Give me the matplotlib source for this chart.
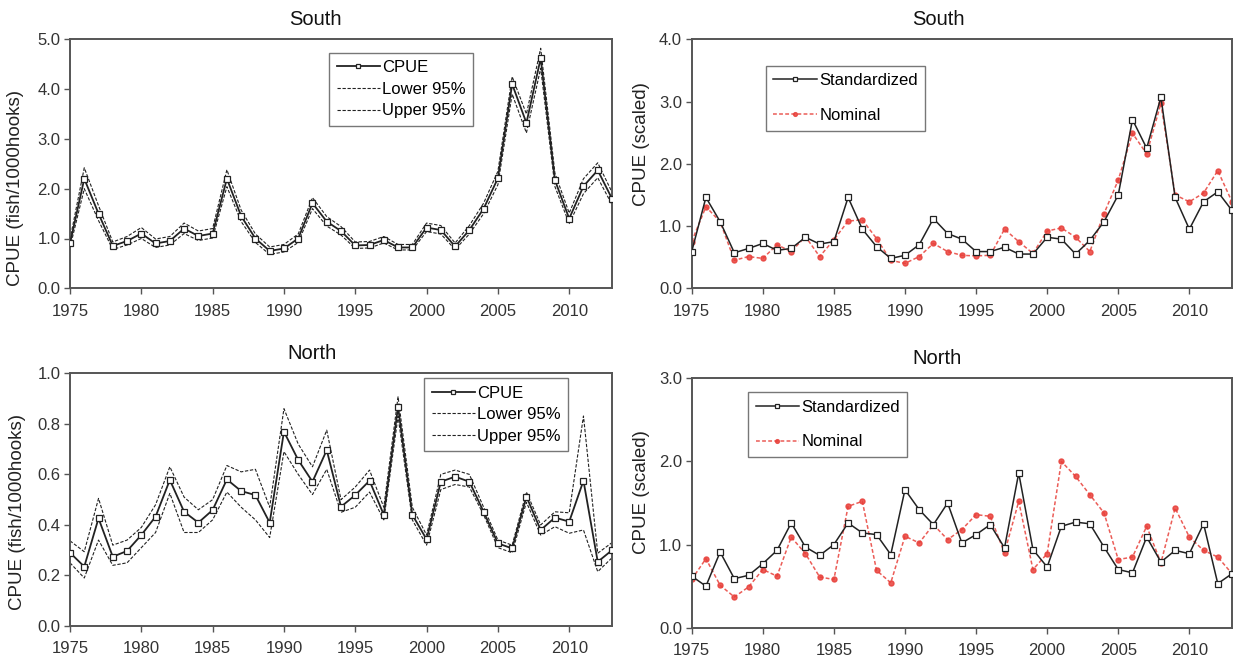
import numpy as np
import matplotlib
matplotlib.use("Agg")
import matplotlib.pyplot as plt

plt.rcParams['font.family'] = ['Liberation Sans', 'DejaVu Sans']

# --- data ---
years = list(range(1975, 2014))

# South: standardized CPUE (fish/1000 hooks) with 95% bounds
south_cpue = [0.90, 2.20, 1.50, 0.85, 0.95, 1.10, 0.90, 0.95, 1.20, 1.05,
              1.10, 2.20, 1.45, 1.00, 0.75, 0.80, 1.00, 1.71, 1.34, 1.15,
              0.86, 0.87, 0.97, 0.82, 0.82, 1.22, 1.17, 0.84, 1.17, 1.60,
              2.21, 4.10, 3.32, 4.62, 2.17, 1.40, 2.05, 2.37, 1.80]
south_lower = [0.82, 2.00, 1.36, 0.78, 0.87, 1.00, 0.82, 0.87, 1.10, 0.96,
               1.01, 2.04, 1.34, 0.92, 0.68, 0.73, 0.92, 1.60, 1.25, 1.07,
               0.80, 0.81, 0.91, 0.77, 0.77, 1.14, 1.09, 0.78, 1.09, 1.50,
               2.08, 3.90, 3.12, 4.42, 2.04, 1.30, 1.90, 2.22, 1.68]
south_upper = [0.98, 2.42, 1.66, 0.93, 1.04, 1.22, 0.99, 1.04, 1.31, 1.15,
               1.20, 2.38, 1.57, 1.09, 0.83, 0.88, 1.09, 1.82, 1.44, 1.24,
               0.93, 0.94, 1.04, 0.88, 0.88, 1.31, 1.26, 0.91, 1.26, 1.71,
               2.35, 4.25, 3.50, 4.82, 2.31, 1.51, 2.20, 2.52, 1.93]

# South: scaled indices
south_std = [0.59, 1.46, 1.07, 0.57, 0.64, 0.72, 0.61, 0.64, 0.82, 0.71,
             0.75, 1.46, 0.95, 0.67, 0.48, 0.53, 0.70, 1.12, 0.88, 0.79,
             0.59, 0.59, 0.66, 0.55, 0.55, 0.82, 0.79, 0.55, 0.77, 1.07,
             1.50, 2.71, 2.25, 3.07, 1.46, 0.95, 1.39, 1.55, 1.25]
south_nom = [0.75, 1.31, 1.07, 0.45, 0.51, 0.48, 0.70, 0.59, 0.83, 0.51,
             0.78, 1.08, 1.10, 0.80, 0.45, 0.40, 0.51, 0.72, 0.59, 0.53,
             0.52, 0.53, 0.95, 0.75, 0.56, 0.92, 0.97, 0.82, 0.59, 1.20,
             1.74, 2.49, 2.16, 2.97, 1.50, 1.39, 1.53, 1.89, 1.39]

# North: standardized CPUE (fish/1000 hooks) with 95% bounds
north_cpue = [0.290, 0.235, 0.426, 0.274, 0.297, 0.360, 0.433, 0.578, 0.452, 0.409,
              0.459, 0.580, 0.534, 0.518, 0.409, 0.769, 0.657, 0.571, 0.696, 0.472,
              0.518, 0.575, 0.440, 0.868, 0.440, 0.343, 0.571, 0.591, 0.571, 0.452,
              0.327, 0.307, 0.512, 0.380, 0.429, 0.413, 0.575, 0.254, 0.300]
north_lower = [0.25, 0.19, 0.34, 0.24, 0.25, 0.31, 0.37, 0.525, 0.37, 0.37,
               0.42, 0.53, 0.47, 0.42, 0.35, 0.69, 0.60, 0.52, 0.62, 0.45,
               0.47, 0.53, 0.42, 0.83, 0.42, 0.32, 0.54, 0.56, 0.55, 0.44,
               0.31, 0.29, 0.49, 0.36, 0.393, 0.367, 0.38, 0.215, 0.27]
north_upper = [0.337, 0.294, 0.505, 0.32, 0.34, 0.39, 0.48, 0.63, 0.51, 0.46,
               0.50, 0.635, 0.61, 0.62, 0.47, 0.86, 0.72, 0.63, 0.775, 0.50,
               0.55, 0.617, 0.47, 0.907, 0.47, 0.36, 0.60, 0.617, 0.60, 0.47,
               0.34, 0.32, 0.53, 0.40, 0.452, 0.448, 0.831, 0.288, 0.33]

# North: scaled indices
north_std = [0.62, 0.50, 0.91, 0.59, 0.63, 0.77, 0.93, 1.26, 0.97, 0.87,
             1.00, 1.26, 1.14, 1.12, 0.88, 1.66, 1.42, 1.24, 1.50, 1.02,
             1.12, 1.24, 0.96, 1.86, 0.94, 0.73, 1.22, 1.27, 1.25, 0.97,
             0.70, 0.66, 1.09, 0.79, 0.93, 0.89, 1.25, 0.53, 0.65]
north_nom = [0.58, 0.83, 0.51, 0.37, 0.49, 0.70, 0.62, 1.09, 0.89, 0.61,
             0.58, 1.46, 1.52, 0.69, 0.54, 1.10, 1.02, 1.24, 1.06, 1.18,
             1.36, 1.34, 0.90, 1.52, 0.70, 0.89, 2.00, 1.82, 1.60, 1.38,
             0.82, 0.85, 1.22, 0.78, 1.44, 1.09, 0.93, 0.85, 0.65]

xticks = [1975, 1980, 1985, 1990, 1995, 2000, 2005, 2010]
SPINE = '#555555'
RED = '#e8403a'
W, H = 1235, 659


def fig_rect(x0, y0, x1, y1):
    # pixel box (top-left origin) -> figure fraction rect
    return [x0 / W, 1 - y1 / H, (x1 - x0) / W, (y1 - y0) / H]


def style_axes(ax, ymax, ystep, title, title_x):
    ax.set_xlim(1975, 2013)
    ax.set_ylim(0, ymax)
    ax.set_xticks(xticks)
    ax.set_yticks(np.arange(0, ymax + ystep / 2, ystep))
    ax.yaxis.set_major_formatter(matplotlib.ticker.FormatStrFormatter('%.1f'))
    ax.tick_params(direction='out', length=4, width=1, color=SPINE,
                   labelsize=12, labelcolor='#333333')
    ax.tick_params(axis='x', pad=7)
    ax.tick_params(axis='y', pad=3)
    for s in ax.spines.values():
        s.set_color(SPINE)
        s.set_linewidth(1.4)
    ax.set_title(title, fontsize=14.5, x=title_x, pad=10, color='#111111')


def plot_cpue(ax, cpue, lower, upper):
    ax.plot(years, lower, '--', color='#222222', lw=0.8, dashes=(3, 1.5), label='Lower 95%')
    ax.plot(years, upper, '--', color='#222222', lw=0.8, dashes=(3, 1.5), label='Upper 95%')
    ax.plot(years, cpue, '-', color='#222222', lw=1.3, marker='s', ms=4.2,
            mfc='white', mec='#222222', mew=0.9, label='CPUE', zorder=3)


def plot_scaled(ax, std, nom):
    ax.plot(years, std, '-', color='#222222', lw=1.1, marker='s', ms=4.3,
            mfc='white', mec='#222222', mew=0.9, label='Standardized', zorder=3)
    ax.plot(years, nom, '--', color=RED, lw=1.1, dashes=(2.5, 1.5), marker='o', ms=3.6,
            mfc=RED, mec=RED, alpha=0.85, label='Nominal', zorder=2)


fig = plt.figure(figsize=(12.35, 6.59), dpi=100)

ax1 = fig.add_axes(fig_rect(70, 39.3, 612, 288.3))
ax2 = fig.add_axes(fig_rect(691.7, 39.3, 1232, 288.3))
ax3 = fig.add_axes(fig_rect(70, 373.3, 612, 626))
ax4 = fig.add_axes(fig_rect(691.7, 378.3, 1232, 627.7))

plot_cpue(ax1, south_cpue, south_lower, south_upper)
style_axes(ax1, 5.0, 1.0, 'South', 0.452)
plot_scaled(ax2, south_std, south_nom)
style_axes(ax2, 4.0, 1.0, 'South', 0.456)
plot_cpue(ax3, north_cpue, north_lower, north_upper)
style_axes(ax3, 1.0, 0.2, 'North', 0.447)
plot_scaled(ax4, north_std, north_nom)
style_axes(ax4, 3.0, 1.0, 'North', 0.454)

# y labels placed by hand
fig.text(16 / W, 1 - 188 / H, 'CPUE (fish/1000hooks)', rotation=90,
         ha='center', va='center', fontsize=13.5, color='#222222')
fig.text(641 / W, 1 - 144.5 / H, 'CPUE (scaled)', rotation=90,
         ha='center', va='center', fontsize=13.5, color='#222222')
fig.text(17.5 / W, 1 - 512.5 / H, 'CPUE (fish/1000hooks)', rotation=90,
         ha='center', va='center', fontsize=13.5, color='#222222')
fig.text(642 / W, 1 - 491.7 / H, 'CPUE (scaled)', rotation=90,
         ha='center', va='center', fontsize=13.5, color='#222222')


def add_legend(ax, order, x, y, spacing):
    handles, labels = ax.get_legend_handles_labels()
    idx = [labels.index(o) for o in order]
    leg = ax.legend([handles[i] for i in idx], [labels[i] for i in idx],
                    loc='upper left', bbox_to_anchor=(x / W, 1 - y / H),
                    bbox_transform=fig.transFigure, borderaxespad=0,
                    fontsize=12, numpoints=1, handlelength=2.6, handletextpad=0.15,
                    labelspacing=spacing, fancybox=False, framealpha=1,
                    borderpad=0.45, markerscale=0.75)
    leg.get_frame().set_edgecolor('#777777')
    leg.get_frame().set_linewidth(1.0)


add_legend(ax1, ['CPUE', 'Lower 95%', 'Upper 95%'], 329, 52.5, 0.4)
add_legend(ax2, ['Standardized', 'Nominal'], 766, 65.7, 1.2)
add_legend(ax3, ['CPUE', 'Lower 95%', 'Upper 95%'], 424, 378, 0.4)
add_legend(ax4, ['Standardized', 'Nominal'], 748, 392, 1.2)

fig.savefig('out.png', dpi=100, facecolor='white')
